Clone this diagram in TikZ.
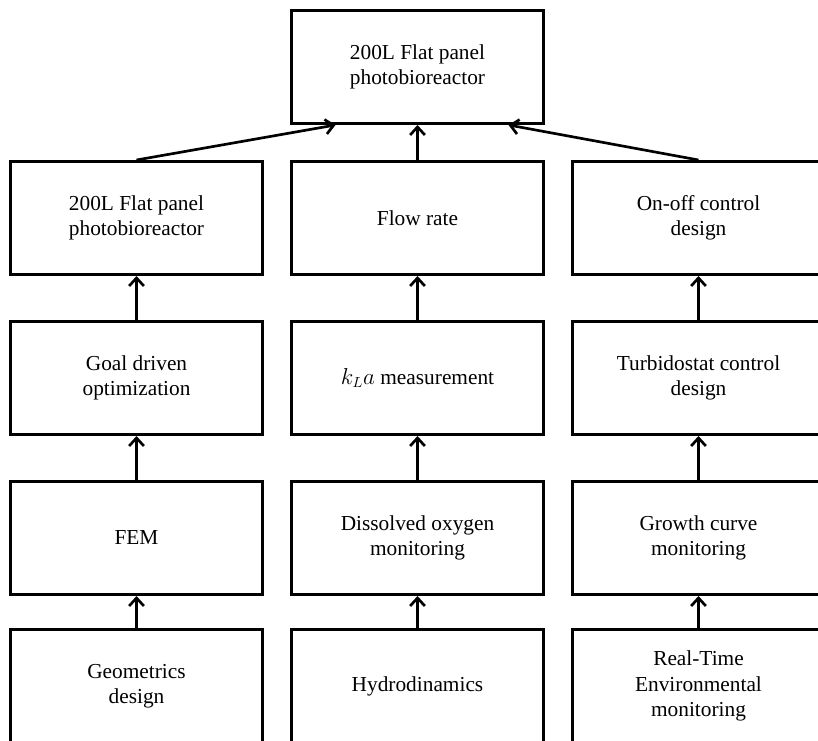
\documentclass[tikz,border=0pt]{standalone}
\usepackage{fontspec}
\setmainfont{Liberation Serif}
\usetikzlibrary{arrows.meta}
\begin{document}
\begin{tikzpicture}[x=0.75pt,y=-0.75pt,
    every node/.style={draw,line width=2pt,minimum width=189pt,minimum height=85pt,
      align=center,font=\fontsize{16}{19}\selectfont},
    >={Straight Barb[length=6pt,width=11pt]}]
  \clip (0,0) rectangle (818,741);
  \draw
    (417.5,67) node (0){200L Flat panel\\photobioreactor}
    (136.5,218) node (1){200L Flat panel\\photobioreactor}
    (417.5,218) node (2){Flow rate}
    (698.5,218) node (3){On-off control\\design}
    (136.5,378) node (4){Goal driven\\optimization}
    (417.5,378) node (5){$k_L a$ measurement}
    (698.5,378) node (6){Turbidostat control\\design}
    (136.5,538) node (7){FEM}
    (417.5,538) node (8){Dissolved oxygen\\monitoring}
    (698.5,538) node (9){Growth curve\\monitoring}
    (136.5,686) node (10){Geometrics\\design}
    (417.5,686) node (11){Hydrodinamics}
    (698.5,686) node (12){Real-Time\\Environmental\\monitoring};
  \path (0.south) ++(-82,0) coordinate (0l)
        (0.south) ++(91,0) coordinate (0r);
  \begin{scope}[->,line width=2pt]
    \draw (1.north) to (0l);
    \draw (2) to (0);
    \draw (3.north) to (0r);
    \draw (4) to (1);
    \draw (5) to (2);
    \draw (6) to (3);
    \draw (7) to (4);
    \draw (8) to (5);
    \draw (9) to (6);
    \draw (10) to (7);
    \draw (11) to (8);
    \draw (12) to (9);
  \end{scope}
\end{tikzpicture}
\end{document}
